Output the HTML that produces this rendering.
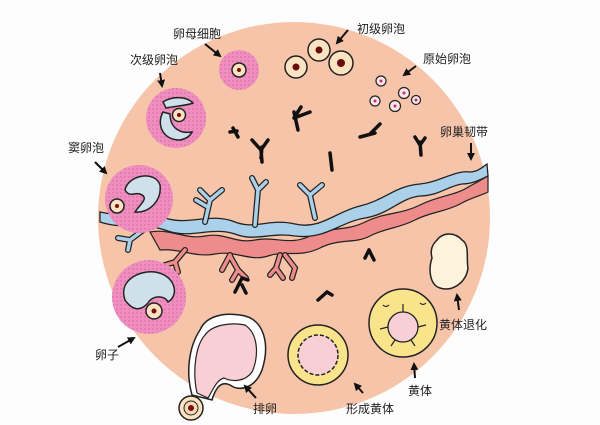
<!DOCTYPE html>
<html><head><meta charset="utf-8"><style>
html,body{margin:0;padding:0;background:#fdfdfd;}
svg{display:block}
text{font-family:"Liberation Sans","Noto Sans CJK SC",sans-serif;font-size:12px;fill:#222}
</style></head><body>
<svg width="600" height="425" viewBox="0 0 600 425" xmlns="http://www.w3.org/2000/svg">
<defs>
<pattern id="dots" width="4" height="4" patternUnits="userSpaceOnUse">
<rect width="4" height="4" fill="#ee8fbf"/><circle cx="1" cy="1" r="0.7" fill="#d9609e"/>
</pattern>
<marker id="ah" markerWidth="4" markerHeight="4" refX="3" refY="2" orient="auto">
<path d="M0,0 L4,2 L0,4 z" fill="#111"/></marker>
</defs>
<circle cx="294" cy="218" r="196" fill="#f6c4a9"/>

<!-- pink vessel -->
<path d="M150,232 C170,228 185,240 205,236 C225,232 235,244 255,240 C275,236 290,246 310,236 C330,226 345,232 365,222 C385,212 400,215 420,205 C440,195 455,196 470,186 C478,182 484,178 488,176 L488,192 C480,196 470,198 460,204 C445,212 430,212 415,220 C400,228 385,228 370,236 C355,244 340,238 320,248 C300,258 285,250 268,256 C250,262 235,250 215,254 C195,258 180,248 160,250 Z" fill="#ee8b8b" stroke="#222" stroke-width="1.2"/>
<!-- pink branches -->
<g stroke="#222" stroke-width="6" fill="none" stroke-linecap="round"><path d="M185,250 L175,262 L165,265 M175,262 L178,272 M230,255 L222,270 M230,256 L238,270 L232,280 M238,270 L246,278 M280,255 L276,268 L270,275 M276,268 L283,278 M285,255 L295,268 L292,278"/></g>
<g stroke="#ee8b8b" stroke-width="3.5" fill="none" stroke-linecap="round"><path d="M185,250 L175,262 L165,265 M175,262 L178,272 M230,255 L222,270 M230,256 L238,270 L232,280 M238,270 L246,278 M280,255 L276,268 L270,275 M276,268 L283,278 M285,255 L295,268 L292,278"/></g>
<!-- blue vessel -->
<path d="M100,212 C125,218 140,210 165,218 C190,226 210,212 235,222 C255,230 270,218 295,224 C320,230 335,212 360,206 C385,200 395,186 420,184 C440,182 455,170 470,172 C478,172 484,166 487,164 L488,176 C480,180 472,184 462,184 C448,186 438,196 420,196 C400,198 390,214 365,218 C340,222 325,240 295,236 C270,232 255,242 235,234 C210,226 190,240 165,230 C140,222 125,230 100,222 Z" fill="#abd0ea" stroke="#222" stroke-width="1.3"/>
<g stroke="#222" stroke-width="6" fill="none" stroke-linecap="round"><path d="M205,222 L210,200 L200,190 M210,200 L222,190 M206,206 L196,200 M255,225 L258,190 L252,178 M258,190 L266,182 M315,218 L310,195 L322,185 M310,195 L300,185 M150,225 L130,240 L118,238 M130,240 L128,250"/></g>
<g stroke="#abd0ea" stroke-width="3.5" fill="none" stroke-linecap="round"><path d="M205,222 L210,200 L200,190 M210,200 L222,190 M206,206 L196,200 M255,225 L258,190 L252,178 M258,190 L266,182 M315,218 L310,195 L322,185 M310,195 L300,185 M150,225 L130,240 L118,238 M130,240 L128,250"/></g>

<!-- Y shapes -->
<g stroke="#111" stroke-width="3.5" fill="none" stroke-linecap="round">
<path d="M233,128 L238,137 M237,131 L230,132"/>
<path d="M262,147 L261,158 M252,140 L261,150 L268,140 M261,150 L262,162"/>
<path d="M298,130 L294,112 M294,118 L301,107 M294,118 L310,112"/>
<path d="M360,137 L375,133 M370,134 L380,124"/>
<path d="M420,142 L421,155 M415,137 L420,145 L425,138"/>
<path d="M330,153 L332,170"/>
<path d="M235,292 L242,278 L248,280 M242,285 L246,293"/>
<path d="M318,300 L327,292 L332,295"/>
<path d="M365,258 L369,250 M369,250 L374,260"/>
</g>

<!-- oocyte -->
<circle cx="239" cy="70" r="20" fill="url(#dots)"/>
<circle cx="239" cy="70" r="7" fill="#fbe3c2" stroke="#222" stroke-width="1.5"/><circle cx="239" cy="70" r="2" fill="#7a1010"/>

<!-- primary follicles -->
<g stroke="#222" stroke-width="1.5" fill="#fbe3c2">
<circle cx="296" cy="67" r="11"/><circle cx="319" cy="50" r="11"/><circle cx="341" cy="63" r="12"/></g>
<g fill="#6a0c0c"><circle cx="296" cy="67" r="3.5"/><circle cx="319" cy="50" r="3.5"/><circle cx="341" cy="63" r="4"/></g>

<!-- primordial -->
<g stroke="#222" stroke-width="1.2" fill="#fde6ea">
<circle cx="381" cy="81" r="5"/><circle cx="375" cy="101" r="5"/><circle cx="395" cy="106" r="5.5"/><circle cx="404" cy="93" r="5.5"/><circle cx="416" cy="100" r="4.5"/></g>
<g fill="#c03070"><circle cx="381" cy="81" r="1.5"/><circle cx="375" cy="101" r="1.5"/><circle cx="395" cy="106" r="1.5"/><circle cx="404" cy="93" r="1.5"/><circle cx="416" cy="100" r="1.5"/></g>

<!-- secondary -->
<circle cx="176" cy="118" r="30" fill="url(#dots)"/>
<path d="M163,102 C172,96 186,96 193,103 C186,106 174,106 166,108 Z" fill="#cfe0ea" stroke="#222" stroke-width="1.5"/>
<path d="M163,112 C156,125 163,140 180,140 C186,139 190,136 192,132 C180,134 170,128 170,114 Z" fill="#cfe0ea" stroke="#222" stroke-width="1.5"/>
<circle cx="179" cy="115" r="6.5" fill="#fbe3c2" stroke="#222" stroke-width="1.5"/><circle cx="179" cy="115" r="2" fill="#7a1010"/>

<!-- antral -->
<circle cx="139" cy="199" r="34" fill="url(#dots)"/>
<path d="M125,190 C128,175 155,170 160,185 C162,200 150,213 135,212 C140,204 150,198 140,194 C134,192 130,198 125,190 Z" fill="#cfe0ea" stroke="#222" stroke-width="1.5"/>
<circle cx="117" cy="206" r="7" fill="#fbe3c2" stroke="#222" stroke-width="1.5"/><circle cx="117" cy="206" r="2" fill="#7a1010"/>

<!-- egg follicle -->
<circle cx="149" cy="297" r="37" fill="url(#dots)"/>
<path d="M125,300 C118,280 140,270 155,272 C175,275 180,295 168,302 C165,295 152,295 148,303 C140,312 132,310 125,300 Z" fill="#cfe0ea" stroke="#222" stroke-width="1.5"/>
<circle cx="154" cy="311" r="8" fill="#fbe3c2" stroke="#222" stroke-width="1.5"/><circle cx="154" cy="311" r="2.5" fill="#7a1010"/>

<!-- ovulation -->
<path d="M192,395 C185,370 190,345 200,330 C205,318 220,312 240,315 C265,318 270,345 262,370 C255,388 240,392 230,385 C220,380 215,390 212,400 Z" fill="#fff" stroke="#222" stroke-width="1.5"/>
<path d="M197,393 C192,370 196,345 205,335 C212,325 230,322 245,325 C260,335 258,360 252,372 C245,382 232,382 224,378 C216,380 212,392 208,398 Z" fill="#f8cfd5" stroke="#222" stroke-width="1.2"/>
<circle cx="191" cy="408" r="12" fill="#fbe3c2" stroke="#222" stroke-width="1.5"/><circle cx="191" cy="408" r="7" fill="#f7d9b3" stroke="#222" stroke-width="1"/><circle cx="191" cy="408" r="3" fill="#7a1010"/>

<!-- forming corpus luteum -->
<circle cx="318" cy="355" r="30" fill="#f9e48c" stroke="#222" stroke-width="1.5"/>
<circle cx="318" cy="355" r="20" fill="#f8cfd5" stroke="#222" stroke-width="1.5" stroke-dasharray="4 2"/>
<!-- corpus luteum -->
<circle cx="403" cy="323" r="34" fill="#f9e48c" stroke="#222" stroke-width="1.5"/>
<circle cx="403" cy="327" r="15" fill="#f8cfd5" stroke="#222" stroke-width="1.3"/>
<g stroke="#222" stroke-width="1.2" fill="none"><path d="M388,327 l-8,2 M418,327 l8,-2 M403,312 l0,-8 M395,340 l-4,6 M411,340 l4,6 M383,305 q3,3 6,0 M420,303 q3,3 6,0"/></g>
<!-- corpus albicans -->
<path d="M437,240 C443,232 455,232 462,240 C470,245 466,258 468,268 C466,283 452,292 440,288 C430,285 428,270 432,258 C430,250 432,245 437,240 Z" fill="#fdf2dc" stroke="#222" stroke-width="1.5"/>

<!-- arrows -->
<g stroke="#111" stroke-width="2" marker-end="url(#ah)">
<line x1="205" y1="44" x2="220" y2="56"/>
<line x1="348" y1="30" x2="337" y2="43"/>
<line x1="416" y1="66" x2="404" y2="75"/>
<line x1="160" y1="73" x2="162" y2="86"/>
<line x1="95" y1="162" x2="106" y2="173"/>
<line x1="471" y1="143" x2="471" y2="159"/>
<line x1="118" y1="347" x2="134" y2="338"/>
<line x1="256" y1="398" x2="245" y2="386"/>
<line x1="363" y1="393" x2="355" y2="384"/>
<line x1="415" y1="378" x2="414" y2="364"/>
<line x1="459" y1="310" x2="457" y2="295"/>
</g>

<!-- labels -->
<text x="173" y="38">卵母细胞</text>
<text x="357" y="33">初级卵泡</text>
<text x="423" y="63">原始卵泡</text>
<text x="130" y="64">次级卵泡</text>
<text x="68" y="152">窦卵泡</text>
<text x="440" y="136">卵巢韧带</text>
<text x="95" y="359">卵子</text>
<text x="253" y="413">排卵</text>
<text x="346" y="413">形成黄体</text>
<text x="408" y="395">黄体</text>
<text x="439" y="329">黄体退化</text>
</svg>
</body></html>
